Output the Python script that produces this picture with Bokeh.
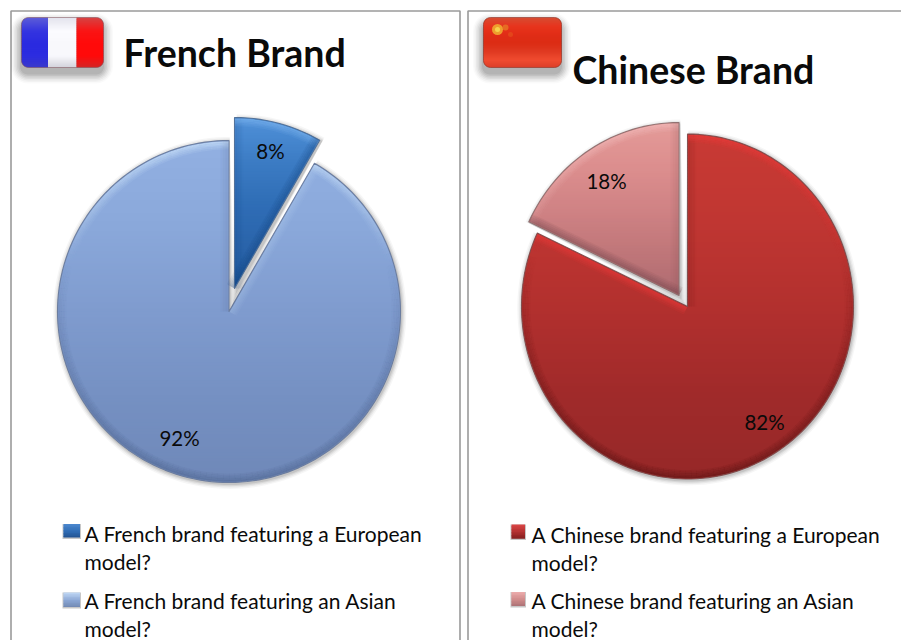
import math
from bokeh.embed import file_html
from bokeh.layouts import row
from bokeh.models import Range1d
from bokeh.plotting import figure
from bokeh.resources import INLINE
from bokeh.core.properties import value

# ---- data ----
french_title = "French Brand"
chinese_title = "Chinese Brand"
french_values = [8.3, 91.7]      # European model, Asian model
chinese_values = [82.0, 18.0]    # European model, Asian model
french_legend = ["A French brand featuring a European", "model?",
                 "A French brand featuring an  Asian", "model?"]
chinese_legend = ["A Chinese brand featuring a European", "model?",
                  "A Chinese brand featuring an Asian", "model?"]

FONT = value("Lato")
INK = "#0a0a0a"
BORDER = "#9a9a9a"


def lerp(stops, t):
    t = max(0.0, min(1.0, t)) * (len(stops) - 1)
    i = min(int(t), len(stops) - 2)
    f = t - i
    a, b = stops[i], stops[i + 1]
    ca = [int(a[k:k + 2], 16) for k in (1, 3, 5)]
    cb = [int(b[k:k + 2], 16) for k in (1, 3, 5)]
    return "#%02x%02x%02x" % tuple(round(x + (y - x) * f) for x, y in zip(ca, cb))


def half(poly, axis, c, keep_low):
    out = []
    n = len(poly)
    inside = (lambda p: p[axis] <= c) if keep_low else (lambda p: p[axis] >= c)
    for i in range(n):
        p, q = poly[i], poly[(i + 1) % n]
        ip, iq = inside(p), inside(q)
        if ip:
            out.append(p)
        if ip != iq:
            t = (c - p[axis]) / (q[axis] - p[axis])
            out.append((p[0] + (q[0] - p[0]) * t, p[1] + (q[1] - p[1]) * t))
    return out


def clip(poly, axis, lo, hi):
    res = half(poly, axis, lo, False)
    if res:
        res = half(res, axis, hi, True)
    return res


def gradient(p, poly, stops, step=3.0):
    ys = [q[1] for q in poly]
    y0, y1 = min(ys), max(ys)
    xs_out, ys_out, cols = [], [], []
    y = y0
    while y < y1:
        band = clip(poly, 1, y, y + step + 0.8)
        if len(band) > 2:
            xs_out.append([q[0] for q in band])
            ys_out.append([q[1] for q in band])
            cols.append(lerp(stops, (y - y0) / max(y1 - y0, 1)))
        y += step
    p.patches(xs_out, ys_out, fill_color=cols, line_color=None)


def slice_outline(cx, cy, rx, ry, a0, a1, grow=0.0):
    """Clockwise from 12 o'clock; angles in radians."""
    mid, hw = (a0 + a1) / 2, (a1 - a0) / 2
    shift = grow / max(math.sin(hw), 0.2)
    ax = cx - shift * math.sin(mid)
    ay = cy + shift * math.cos(mid)
    n = max(int((a1 - a0) / math.radians(2)), 2)
    arc = []
    for i in range(n + 1):
        a = a0 + (a1 - a0) * i / n
        arc.append((cx + (rx + grow) * math.sin(a), cy - (ry + grow) * math.cos(a)))
    return [(ax, ay)] + arc


def bevel(p, poly, light, dark, edge, insets=(1.6, 3.2, 4.8, 6.4, 8.0)):
    area = sum(poly[i][0] * poly[(i + 1) % len(poly)][1] - poly[(i + 1) % len(poly)][0] * poly[i][1]
               for i in range(len(poly)))
    sign = 1 if area > 0 else -1
    xs, ys, col, alpha = [], [], [], []
    m = len(poly)
    for i in range(m):
        a, b = poly[i], poly[(i + 1) % m]
        dx, dy = b[0] - a[0], b[1] - a[1]
        ln = math.hypot(dx, dy) or 1
        nx, ny = sign * dy / ln, -sign * dx / ln      # outward normal on screen
        for d in insets:
            fade = 1 - d / (insets[-1] + 1.6)
            if ny < -0.3:
                c, al = light, (((-ny - 0.3) / 0.7) ** 0.9) * 0.75 * fade
            else:
                c, al = dark, (0.18 * min(1.0, (ny + 0.3) / 0.3) + 0.5 * max(ny, 0.0)) * fade
            xs.append([a[0] - nx * d, b[0] - nx * d])
            ys.append([a[1] - ny * d, b[1] - ny * d])
            col.append(c)
            alpha.append(al)
    p.multi_line(xs, ys, line_color=col, line_alpha=alpha, line_width=1.7, line_cap="butt")
    p.patch([q[0] for q in poly] + [poly[0][0]], [q[1] for q in poly] + [poly[0][1]],
            fill_color=None, line_color=edge, line_width=1.1, line_alpha=0.9, line_join="round")


def draw_slice(p, cx, cy, rx, ry, a0, a1, stops, light, dark, edge, shadow=(0.8, 1.4)):
    for g, al in ((5, 0.035), (3.6, 0.05), (2.3, 0.07), (1.1, 0.09)):
        s = slice_outline(cx + shadow[0], cy + shadow[1], rx, ry, a0, a1, grow=g)
        p.patch([q[0] for q in s], [q[1] for q in s], fill_color="#000000", fill_alpha=al, line_color=None)
    poly = slice_outline(cx, cy, rx, ry, a0, a1)
    gradient(p, poly, stops)
    bevel(p, poly, light, dark, edge)


def rounded(x0, y0, x1, y1, r):
    pts = []
    for (cx, cy, st) in ((x1 - r, y0 + r, -90), (x1 - r, y1 - r, 0), (x0 + r, y1 - r, 90), (x0 + r, y0 + r, 180)):
        for k in range(7):
            a = math.radians(st + 15 * k)
            pts.append((cx + r * math.cos(a), cy + r * math.sin(a)))
    return pts


def flag_shadow(p, x0, y0, x1, y1):
    for g, al in ((10, 0.02), (8.5, 0.03), (7, 0.04), (5.5, 0.05), (4, 0.06), (2.5, 0.06), (1, 0.07)):
        s = rounded(x0 - g - 0.5, y0 - g + 6, x1 + g - 0.5, y1 + g + 6, 7 + g)
        p.patch([q[0] for q in s], [q[1] for q in s], fill_color="#000000", fill_alpha=al, line_color=None)


def legend_key(p, x0, y0, x1, y1, stops):
    poly = [(x0, y0), (x1, y0), (x1, y1), (x0, y1)]
    s = [(x0 - 1, y0), (x1 + 1, y0), (x1 + 1, y1 + 1.5), (x0 - 1, y1 + 1.5)]
    p.patch([q[0] for q in s], [q[1] for q in s], fill_color="#000000", fill_alpha=0.22, line_color=None)
    gradient(p, poly, stops, step=1.5)


def panel(width, x0, x1, frame_left, frame_right):
    p = figure(width=width, height=640, x_range=Range1d(x0, x1), y_range=Range1d(640, 0),
               toolbar_location=None, output_backend="svg", min_border=0,
               background_fill_color="white", border_fill_color="white", outline_line_color=None)
    p.axis.visible = False
    p.grid.visible = False
    xs = [frame_left, frame_left, frame_right] + ([frame_right] if frame_right < x1 else [])
    ys = [640, 10.5, 10.5] + ([640] if frame_right < x1 else [])
    p.line(xs, ys, line_color=BORDER, line_width=1.6)
    return p


def texts(p, xs, ys, labels, size, weight="normal", align="left", baseline="middle"):
    p.text(xs, ys, text=labels, text_font=FONT, text_font_size=size, text_font_style=weight,
           text_color=INK, text_align=align, text_baseline=baseline)


def angles(vals):
    tot = sum(vals)
    out, c = [], 0.0
    for v in vals:
        out.append((c, c + v / tot * 2 * math.pi))
        c += v / tot * 2 * math.pi
    return out


# ---------- French panel ----------
left = panel(463, 0, 463, 10.5, 459.5)
flag_shadow(left, 21, 17, 103, 67)
fl = rounded(21, 17, 103, 67, 7)
for lo, hi, stops in ((21, 47.5, ["#5a5ad8", "#3434e0", "#2a2ae0", "#2c2ce0", "#3a3ac8"]),
                      (47.5, 76, ["#e4e4ee", "#fbfbff", "#f8f8fc", "#f8f8fc", "#cfcfd8"]),
                      (76, 103, ["#d84040", "#fa1414", "#ff0a0a", "#ff0a0a", "#d02828"])):
    gradient(left, clip(fl, 0, lo, hi), stops, step=2.0)
left.patch([q[0] for q in fl], [q[1] for q in fl], fill_color=None, line_color="#80505a", line_alpha=0.55, line_width=1)
texts(left, [123], [52], [french_title], "37.5px", "bold")

(a0, a1), (b0, b1) = angles(french_values)
draw_slice(left, 228.5, 311, 171.5, 171, b0, b1, ["#92b0e2", "#8aa8da", "#7f9bce", "#7590c2", "#6f88b8"],
           "#cfe6fb", "#4f6590", "#66789a")
draw_slice(left, 234, 288, 171, 171, a0, a1, ["#4f90d8", "#3c7cc4", "#2f6db6", "#2a64aa", "#1f5a9e"],
           "#7db4ee", "#123f78", "#4b6a92", shadow=(2.2, 1.8))
fr_lab = [f"{v:.0f}%" for v in french_values]
texts(left, [270, 179], [150, 437], fr_lab, "20.5px", align="center")
legend_key(left, 63, 523.5, 79.5, 537, ["#4a86cc", "#2f6cb4", "#1f4f8c"])
legend_key(left, 63, 592, 79.5, 606.5, ["#bcd4f2", "#8aa6d4", "#6f86b0"])
texts(left, [84, 84, 84, 84], [533, 561, 600, 628], french_legend, "21px")

# ---------- Chinese panel ----------
right = panel(438, 463, 901, 467.5, 1000)
flag_shadow(right, 483, 17, 561, 67)
fc = rounded(483, 17, 561, 67, 7)
gradient(right, fc, ["#d84a30", "#e8331c", "#e02c16", "#dc2c14", "#e03a22", "#f04c30", "#d83c28"], step=2.0)
right.scatter([497, 505, 510], [29, 27, 34], size=[11, 6, 5], marker="circle",
              fill_color=["#f0b030", "#e89028", "#e86a20"], fill_alpha=[0.85, 0.6, 0.4], line_color=None)
right.scatter([497], [29], size=[5], marker="circle", fill_color="#f6d850", fill_alpha=0.9, line_color=None)
right.patch([q[0] for q in fc], [q[1] for q in fc], fill_color=None, line_color="#8a3024", line_alpha=0.6, line_width=1)
texts(right, [572], [69], [chinese_title], "37.5px", "bold")

(c0, c1), (d0, d1) = angles(chinese_values)
draw_slice(right, 687, 306, 166, 172.5, c0, c1, ["#c83a34", "#c03632", "#b2302e", "#a02a2a", "#962828"],
           "#ee3a3a", "#5a1414", "#7c4a4a")
draw_slice(right, 678.5, 295, 166, 173, d0, d1, ["#e49a98", "#dc8e8e", "#cf8284", "#bf7679", "#ad6a70"],
           "#f2bcbc", "#7a4a50", "#8a6a6a", shadow=(1.4, 2.0))
cn_lab = [f"{v:.0f}%" for v in chinese_values]
texts(right, [764, 606], [421, 180], cn_lab, "20.5px", align="center")
legend_key(right, 511, 524, 524.5, 538, ["#d84444", "#b03030", "#7c1c1c"])
legend_key(right, 511, 591.5, 524.5, 605.5, ["#eaaaaa", "#cf8a8a", "#a87074"])
texts(right, [531, 531, 531, 531], [534, 562, 600, 628], chinese_legend, "21px")

open("out.html", "w").write(file_html(row(left, right, spacing=0), INLINE))
